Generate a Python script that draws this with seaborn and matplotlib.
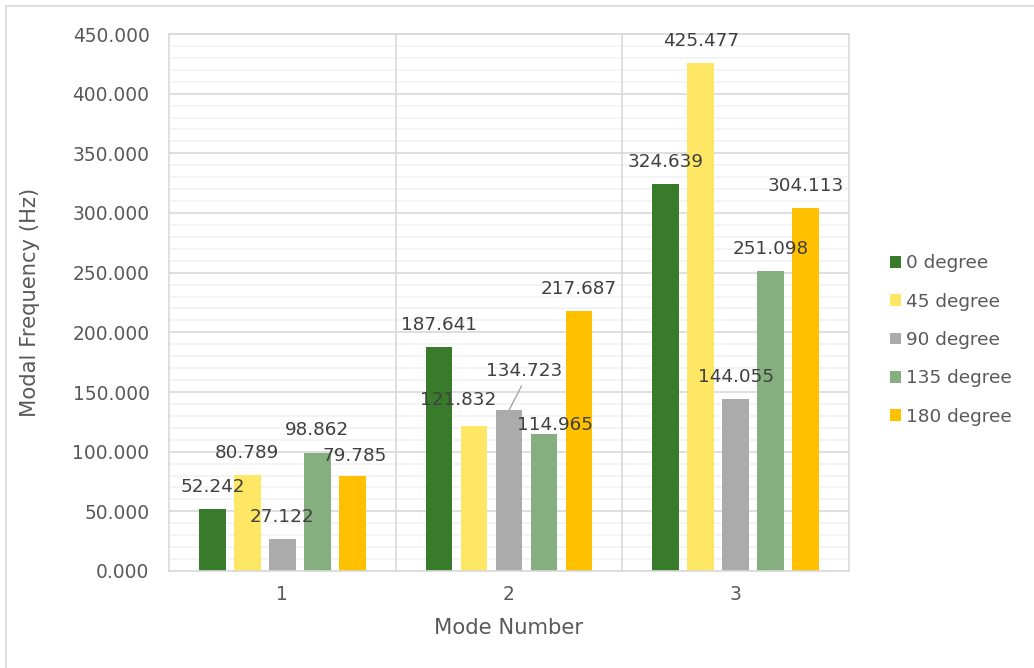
import matplotlib
matplotlib.use("Agg")
import matplotlib.pyplot as plt
from matplotlib.lines import Line2D
from matplotlib.ticker import MultipleLocator, FormatStrFormatter
import seaborn as sns
import pandas as pd

# ---- data -------------------------------------------------------------
modes = ["1", "2", "3"]
angles = ["0 degree", "45 degree", "90 degree", "135 degree", "180 degree"]
freq_0 = [52.242, 187.641, 324.639]
freq_45 = [80.789, 121.832, 425.477]
freq_90 = [27.122, 134.723, 144.055]
freq_135 = [98.862, 114.965, 251.098]
freq_180 = [79.785, 217.687, 304.113]

colors = ["#387C2B", "#FFE766", "#ABABAB", "#85AF7E", "#FFC000"]

series = [freq_0, freq_45, freq_90, freq_135, freq_180]
df = pd.DataFrame(
    [(m, a, v) for a, vals in zip(angles, series) for m, v in zip(modes, vals)],
    columns=["mode", "angle", "freq"],
)

# label nudges in pixels (dx, dy) relative to the default spot above a bar
label_nudge = {
    ("1", "180 degree"): (2.5, -2),
    ("1", "135 degree"): (0, 1),
    ("2", "45 degree"): (-16, 4),
    ("2", "90 degree"): (15.5, 17),
    ("2", "135 degree"): (11, -13),
}
leader_lines = {("2", "90 degree")}

# ---- figure -----------------------------------------------------------
W, H = 1034, 668
fig = plt.figure(figsize=(W / 100, H / 100), dpi=100)
sns.set_style("white")
plt.rcParams["font.family"] = ["DejaVu Sans"]

ax = fig.add_axes([169 / W, 1 - 571 / H, (849 - 169) / W, (571 - 34) / H])

sns.barplot(
    data=df, x="mode", y="freq", hue="angle", order=modes, hue_order=angles,
    palette=colors, width=0.772, gap=0.229, ax=ax, saturation=1,
    edgecolor="none", linewidth=0, errorbar=None, legend=True,
)

ax.set_xlim(-0.5, 2.5)
ax.set_ylim(0, 450)

# gridlines: major every 50, minor every 10, vertical at category borders
ax.yaxis.set_major_locator(MultipleLocator(50))
ax.yaxis.set_minor_locator(MultipleLocator(10))
ax.yaxis.set_major_formatter(FormatStrFormatter("%.3f"))
ax.grid(which="minor", axis="y", color="#F2F2F2", lw=1.2, zorder=0.3)
ax.grid(which="major", axis="y", color="#D9D9D9", lw=1.2, zorder=0.4)
ax.grid(which="major", axis="x", visible=False)
ax.set_axisbelow(True)
for xb in (0.5, 1.5):
    ax.axvline(xb, color="#D9D9D9", lw=1.2, zorder=0.6)
for s in ax.spines.values():
    s.set_color("#D9D9D9")
    s.set_linewidth(1.2)

ax.tick_params(axis="both", which="both", length=0)
ax.tick_params(axis="y", pad=14, labelsize=13.4, labelcolor="#595959")
ax.tick_params(axis="x", pad=10, labelsize=13.4, labelcolor="#595959")

ax.set_xlabel("Mode Number", fontsize=15.2, color="#595959", labelpad=10.5)
ax.set_ylabel("Modal Frequency (Hz)", fontsize=15.2, color="#595959", labelpad=23)

# data labels
for angle, cont in zip(angles, ax.containers):
    for mode, bar in zip(modes, cont):
        h = bar.get_height()
        xc = bar.get_x() + bar.get_width() / 2
        dx, dy = label_nudge.get((mode, angle), (0, 0))
        kw = {}
        if (mode, angle) in leader_lines:
            kw["arrowprops"] = dict(arrowstyle="-", color="#A6A6A6", lw=1,
                                    shrinkA=2, shrinkB=0, relpos=(0.5, 0))
        ax.annotate(f"{h:.3f}", xy=(xc, h), xytext=(dx * 0.72, (22 + dy) * 0.72),
                    textcoords="offset points", ha="center", va="center",
                    fontsize=13.2, color="#404040", **kw)

# legend
handles, labels = ax.get_legend_handles_labels()
ax.legend(handles, labels, loc="center left", bbox_to_anchor=(890 / W, 1 - 340 / H),
          bbox_transform=fig.transFigure, frameon=False, fontsize=13.3,
          labelcolor="#595959", handlelength=0.6, handleheight=0.6,
          handletextpad=0.25, labelspacing=1.1, borderaxespad=0, borderpad=0)

# outer chart frame
fig.add_artist(Line2D([5.5 / W, 5.5 / W], [0, 1 - 5.5 / H], transform=fig.transFigure,
                      color="#D9D9D9", lw=1.2))
fig.add_artist(Line2D([5.5 / W, 1], [1 - 5.5 / H, 1 - 5.5 / H], transform=fig.transFigure,
                      color="#D9D9D9", lw=1.2))

fig.savefig("out.png", dpi=100, facecolor="white")
